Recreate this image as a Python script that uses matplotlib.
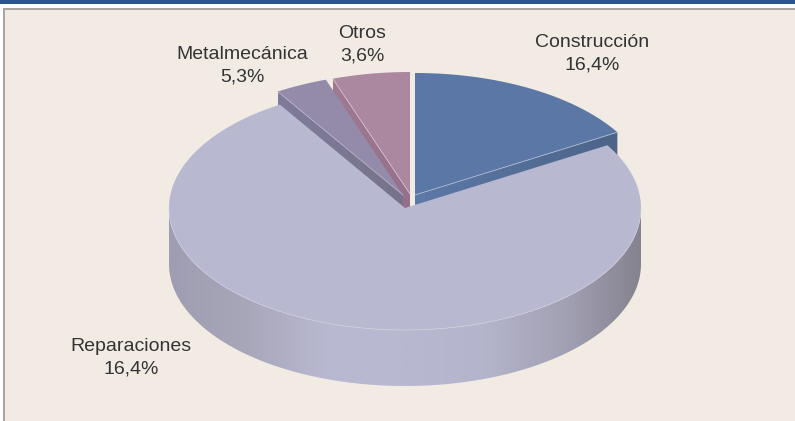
import numpy as np
import matplotlib
matplotlib.use("Agg")
import matplotlib.pyplot as plt
from matplotlib.colors import LinearSegmentedColormap
from matplotlib.patches import Polygon, Rectangle

# slice sizes as drawn (the printed labels do not add up to the drawn shapes)
categories = ["Construcción", "Reparaciones", "Metalmecánica", "Otros"]
drawn_shares = [16.4, 74.7, 3.6, 5.3]
printed_labels = ["16,4%", "16,4%", "5,3%", "3,6%"]

plt.rcParams["font.family"] = ["Liberation Sans", "DejaVu Sans"]

RX, RY = 236, 122
DEPTH = 56
SEGS = 300

top_colors = ["#5b77a6", "#b8b8d1", "#938ba9", "#ab88a0"]
side_colors = [["#5c79a8", "#4d6488"], None, ["#807b9a", "#77738c"], ["#a07a92", "#96708a"]]
centers = [(415, 195), (405, 208), (403, 195), (410, 194)]
label_pos = [(592, 54), (131, 358), (242, 66), (362, 45)]


def arc(center, t0, t1):
    t = np.linspace(t0, t1, SEGS)
    return np.column_stack([center[0] + RX * np.sin(t), center[1] - RY * np.cos(t)])


def gradient_fill(ax, pts, colors):
    # horizontal gradient clipped to a polygon
    cmap = LinearSegmentedColormap.from_list("side", colors)
    x0, x1 = pts[:, 0].min(), pts[:, 0].max()
    y0, y1 = pts[:, 1].min(), pts[:, 1].max()
    patch = Polygon(pts, closed=True, facecolor="none", edgecolor="none", transform=ax.transData)
    ax.add_patch(patch)
    im = ax.imshow(np.linspace(0, 1, 256)[None, :], cmap=cmap, extent=(x0, x1, y1, y0),
                   aspect="auto", zorder=patch.get_zorder(), interpolation="bilinear")
    im.set_clip_path(patch)


def draw_cut_face(ax, center, t, colors):
    # flat face of a slice pulled out of the pie
    edge = arc(center, t, t)[:1]
    pts = np.array([center, edge[0], edge[0] + [0, DEPTH], [center[0], center[1] + DEPTH]])
    gradient_fill(ax, pts, colors)


def main():
    fig = plt.figure(figsize=(7.95, 4.21), dpi=100, facecolor="white")
    ax = fig.add_axes([0, 0, 1, 1])
    ax.axis("off")

    ax.add_patch(Rectangle((0, 0), 795, 4, facecolor="#28578c", edgecolor="none"))
    ax.add_patch(Rectangle((3, 8), 792, 421, facecolor="#a8a5a0", edgecolor="none"))
    ax.add_patch(Rectangle((4.5, 10), 791, 421, facecolor="#f2ebe4", edgecolor="none"))

    fracs = np.cumsum([0] + drawn_shares) / sum(drawn_shares) * 2 * np.pi
    starts, ends = fracs[:-1], fracs[1:]

    # the pulled out slices go first, Reparaciones covers their lower part
    draw_cut_face(ax, centers[0], ends[0], side_colors[0])
    ax.fill(*np.vstack([[centers[0]], arc(centers[0], starts[0], ends[0])]).T, color=top_colors[0], lw=0)
    ax.plot(*np.array([centers[0], arc(centers[0], ends[0], ends[0])[0]]).T, color="#aebbd2", lw=0.6)

    draw_cut_face(ax, centers[3], starts[3], side_colors[3])
    ax.fill(*np.vstack([[centers[3]], arc(centers[3], starts[3], ends[3])]).T, color=top_colors[3], lw=0)
    ax.plot(*np.array([centers[3], arc(centers[3], starts[3], starts[3])[0]]).T, color="#d3bfcb", lw=0.6)

    draw_cut_face(ax, centers[2], starts[2], side_colors[2])
    ax.fill(*np.vstack([[centers[2]], arc(centers[2], starts[2], ends[2])]).T, color=top_colors[2], lw=0)
    ax.plot(*np.array([centers[2], arc(centers[2], starts[2], starts[2])[0]]).T, color="#b9b4c8", lw=0.6)

    # Reparaciones: rim with gradient, then the top
    c = centers[1]
    front = arc(c, np.pi / 2, 3 * np.pi / 2)
    rim = np.vstack([front, (front + [0, DEPTH])[::-1]])
    gradient_fill(ax, rim, ["#9f9db1", "#a8a7ba", "#b8b8d1", "#b8b8d1", "#b4b4cc", "#a3a2b5", "#868390"])
    ax.fill(*np.vstack([[c], arc(c, starts[1], ends[1])]).T, color=top_colors[1], lw=0)
    ax.plot(*front.T, color="#cfcfe0", lw=0.5)

    for name, val, (x, y) in zip(categories, printed_labels, label_pos):
        ax.text(x, y, name + "\n" + val, ha="center", va="center", fontsize=14,
                color="#333333", linespacing=1.4)

    ax.set_xlim(0, 795)
    ax.set_ylim(421, 0)
    fig.savefig("out.png", dpi=100)


if __name__ == "__main__":
    main()
